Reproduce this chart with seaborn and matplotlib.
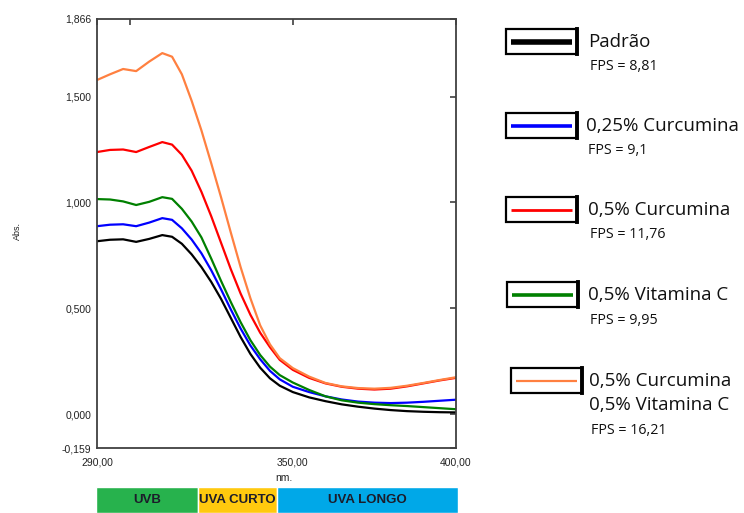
import numpy as np
import pandas as pd
import seaborn as sns
import matplotlib.pyplot as plt
from matplotlib.patches import Rectangle

# wavelengths (nm) and absorbance
wavelength = [290, 294, 298, 302, 306, 310, 313, 316, 319, 322, 325, 328, 331, 334, 337,
              340, 343, 346, 350, 355, 360, 365, 370, 375, 380, 385, 390, 395, 400]
padrao = [0.817, 0.824, 0.826, 0.814, 0.828, 0.846, 0.838, 0.805, 0.755, 0.695, 0.625, 0.545,
          0.455, 0.365, 0.285, 0.220, 0.170, 0.135, 0.105, 0.080, 0.062, 0.047, 0.036, 0.027,
          0.020, 0.015, 0.012, 0.010, 0.009]
curcumina_025 = [0.888, 0.895, 0.897, 0.888, 0.905, 0.926, 0.918, 0.878, 0.825, 0.760, 0.680,
                 0.590, 0.495, 0.405, 0.325, 0.260, 0.205, 0.165, 0.130, 0.105, 0.085, 0.070,
                 0.060, 0.055, 0.053, 0.055, 0.059, 0.064, 0.069]
curcumina_05 = [1.238, 1.248, 1.250, 1.238, 1.262, 1.285, 1.273, 1.225, 1.150, 1.050, 0.935,
                0.810, 0.685, 0.570, 0.470, 0.385, 0.317, 0.257, 0.210, 0.172, 0.146, 0.130,
                0.121, 0.117, 0.121, 0.132, 0.146, 0.160, 0.172]
vitamina_c_05 = [1.016, 1.014, 1.005, 0.988, 1.003, 1.025, 1.017, 0.970, 0.910, 0.835, 0.735,
                 0.630, 0.530, 0.435, 0.350, 0.280, 0.225, 0.185, 0.150, 0.115, 0.085, 0.066,
                 0.055, 0.048, 0.043, 0.039, 0.034, 0.029, 0.024]
curc_vitc = [1.578, 1.605, 1.630, 1.620, 1.665, 1.705, 1.688, 1.605, 1.480, 1.340, 1.185,
             1.025, 0.858, 0.695, 0.548, 0.420, 0.330, 0.265, 0.218, 0.178, 0.148, 0.132,
             0.124, 0.121, 0.125, 0.135, 0.148, 0.162, 0.175]

names = ['Padrão', '0,25% Curcumina', '0,5% Curcumina', '0,5% Vitamina C',
         '0,5% Curcumina\n0,5% Vitamina C']
fps = ['8,81', '9,1', '11,76', '9,95', '16,21']
colors = ['#000000', '#0000ff', '#ff0000', '#008000', '#ff8040']
series = [padrao, curcumina_025, curcumina_05, vitamina_c_05, curc_vitc]

band_labels = ['UVB', 'UVA CURTO', 'UVA LONGO']
band_start = [290, 321, 345]
band_end = [321, 345, 400]
band_colors = ['#27b24d', '#ffc90e', '#00a8e8']

df = pd.DataFrame({
    'nm': wavelength * len(names),
    'abs': [v for s in series for v in s],
    'amostra': [n for n, s in zip(names, series) for _ in s],
})

sns.set_style('white')
plt.rcParams['font.family'] = ['Liberation Sans', 'DejaVu Sans']

fig = plt.figure(figsize=(7.44, 5.13), dpi=100)
W, H = 744, 513
ax = fig.add_axes([97 / W, 1 - 448 / H, (456 - 97) / W, (448 - 19) / H])
sns.lineplot(data=df, x='nm', y='abs', hue='amostra', hue_order=names,
             palette=dict(zip(names, colors)), linewidth=1.6, legend=False, ax=ax)

ax.set_xlim(290, 400)
ax.set_ylim(-0.159, 1.866)
ax.set_xticks([290, 300, 350, 400])
ax.set_xticklabels(['290,00', '', '350,00', '400,00'])
ax.set_yticks([-0.159, 0, 0.5, 1.0, 1.5, 1.866])
ax.set_yticklabels(['-0,159', '0,000', '0,500', '1,000', '1,500', '1,866'])
ax.tick_params(direction='in', top=True, right=True, length=4, width=1.2,
               color='#404040', labelsize=7.5, labelcolor='#222222')
ax.tick_params(axis='x', pad=7)
ax.tick_params(axis='y', pad=4)
for sp in ax.spines.values():
    sp.set_color('#404040')
    sp.set_linewidth(1.3)
ax.set_xlabel('')
ax.set_ylabel('')
fig.text(17 / W, 1 - 231 / H, 'Abs.', rotation=90, fontsize=6.5, ha='center', va='center',
         color='#222222')
fig.text(284 / W, 1 - 478 / H, 'nm.', fontsize=7.5, ha='center', va='center', color='#222222')

# UV band strip under the axis
bax = fig.add_axes([96 / W, 0, (458 - 96) / W, 26 / H])
for lab, s, e, c in zip(band_labels, band_start, band_end, band_colors):
    bax.barh(0, e - s, left=s, height=1, color=c)
    bax.text((s + e) / 2, 0, lab, ha='center', va='center', fontsize=9.5,
             fontweight='bold', color='#1c1c2a')
bax.set_xlim(290, 400)
bax.set_ylim(-0.5, 0.5)
bax.axis('off')

# legend boxes drawn in pixel coordinates
lax = fig.add_axes([0, 0, 1, 1])
lax.set_xlim(0, W)
lax.set_ylim(H, 0)
lax.axis('off')
box_x = [506, 506, 506, 507, 511]
box_y = [29, 113, 197, 282, 368]
line_w = [4.0, 2.6, 2.0, 2.6, 1.6]
text_x = [588, 586, 588, 588, 589]
for i, name in enumerate(names):
    x0, y0 = box_x[i], box_y[i]
    lax.add_patch(Rectangle((x0, y0), 71, 25, fill=False, edgecolor='black', linewidth=1.6))
    lax.plot([x0 + 71, x0 + 71], [y0, y0 + 25], color='black', linewidth=2.8,
             solid_capstyle='projecting')
    lax.plot([x0 + 5, x0 + 66], [y0 + 13, y0 + 13], color=colors[i], linewidth=line_w[i],
             solid_capstyle='butt')
    ty = y0 + 13
    for ln in name.split('\n'):
        lax.text(text_x[i], ty, ln, fontsize=13.5, family=['Open Sans', 'DejaVu Sans'],
                 ha='left', va='center', color='#111111')
        ty += 24.5
    lax.text(text_x[i] + 2, ty + 0.5, 'FPS = ' + fps[i], fontsize=10.3,
             family=['Open Sans', 'DejaVu Sans'], ha='left', va='center', color='#111111')

fig.savefig('out.png', dpi=100)
